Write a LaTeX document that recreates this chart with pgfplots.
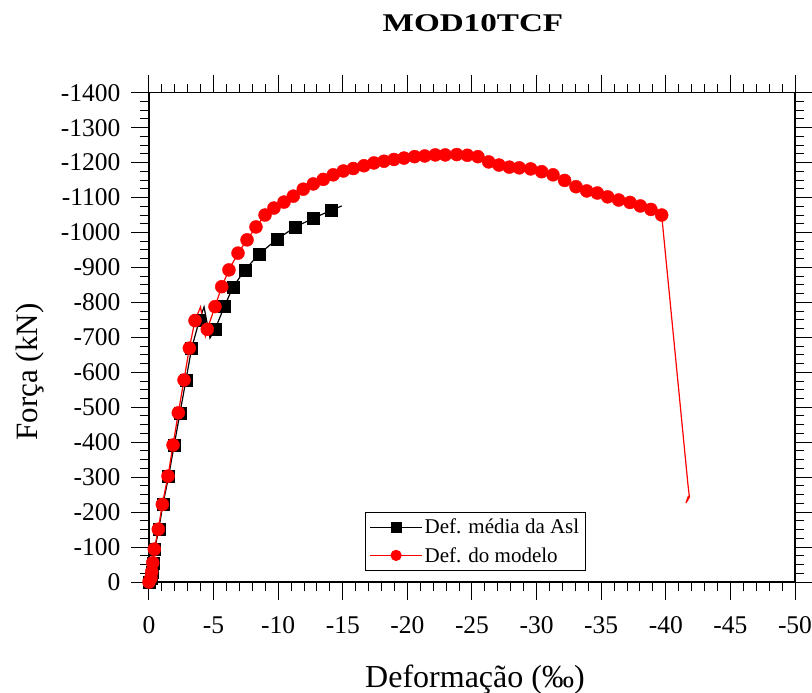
\documentclass[border=0pt]{standalone}
\usepackage{pgfplots}
\pgfplotsset{compat=1.18}
\usepackage{fontspec}
\usepackage{graphicx}
\setmainfont{Liberation Serif}
\begin{document}
\begin{tikzpicture}
\begin{axis}[
  at={(149bp,111bp)}, anchor=south west,
  scale only axis, width=646bp, height=489.3bp,
  x dir=reverse, y dir=reverse,
  xmin=-50, xmax=0, ymin=-1400, ymax=0,
  xtick={0,-5,...,-50},
  xticklabels={0,-5,-10,-15,-20,-25,-30,-35,-40,-45,-50},
  ytick={0,-100,...,-1400},
  yticklabels={0,-100,-200,-300,-400,-500,-600,-700,-800,-900,-1000,-1100,-1200,-1300,-1400},
  minor x tick num=4, minor y tick num=3,
  tick align=outside, major tick length=18bp, minor tick length=9bp,
  every tick/.style={black, line width=1bp},
  axis line style={line width=1.3bp},
  ticklabel style={font=\fontsize{25.5bp}{30bp}\selectfont},
  xticklabel style={yshift=-13bp},
  yticklabel style={xshift=-7bp},
  title={\scalebox{1.3}[1]{\fontsize{25.5bp}{30bp}\selectfont\bfseries MOD10TCF}},
  title style={at={(0.5015,1.1234)}, anchor=base, yshift=-5bp},
  xlabel={Deformação (‰)},
  xlabel style={at={(0.5046,-0.2146)}, anchor=base, font=\fontsize{32bp}{38bp}\selectfont},
  ylabel={Força (kN)},
  ylabel style={at={(-0.184,0.429)}, anchor=center, rotate=0, font=\fontsize{31bp}{37bp}\selectfont},
  legend image code/.code={\draw[mark repeat=2,mark phase=2,#1] plot coordinates {(0bp,0bp) (26bp,0bp) (52bp,0bp)};},
  legend style={at={(0.3344,0.1431)}, anchor=north west, draw=black, line width=1bp,
    font=\fontsize{21bp}{25bp}\selectfont, inner xsep=4bp, inner ysep=4.5bp, row sep=8bp,
    cells={anchor=west}},
  legend cell align=left,
]
% Def. media da Asl (line)
\addplot[black, line width=1.2bp, forget plot] coordinates {
(0,0) (-0.17,-11) (-0.23,-29) (-0.31,-55) (-0.44,-94) (-0.76,-151) (-1.08,-222)
(-1.52,-303) (-1.95,-392) (-2.40,-484) (-2.86,-578) (-3.30,-669) (-3.89,-748)
(-4.26,-787) (-4.72,-698) (-5.11,-723) (-5.83,-788) (-6.50,-844) (-7.43,-893)
(-8.51,-938) (-9.91,-981) (-11.30,-1015) (-12.72,-1041) (-14.14,-1064) (-14.92,-1076)
};
% Def. media da Asl (marks)
\addplot[black, only marks, mark=square*, mark size=6bp, forget plot] coordinates {
(0,0) (-0.17,-11) (-0.23,-29) (-0.31,-55) (-0.44,-94) (-0.76,-151) (-1.08,-222)
(-1.52,-303) (-1.95,-392) (-2.40,-484) (-2.86,-578) (-3.30,-669) (-3.89,-748)
(-5.11,-723) (-5.83,-788) (-6.50,-844) (-7.43,-893)
(-8.51,-938) (-9.91,-981) (-11.30,-1015) (-12.72,-1041) (-14.14,-1064)
};
% Def. do modelo (line)
\addplot[red, line width=1.2bp, forget plot] coordinates {
(0,0) (-0.15,-11) (-0.21,-29) (-0.29,-55) (-0.41,-94) (-0.72,-151) (-1.03,-222)
(-1.47,-303) (-1.86,-392) (-2.27,-484) (-2.71,-578) (-3.12,-669) (-3.56,-748)
(-3.99,-787) (-4.37,-704) (-4.51,-723) (-5.11,-788) (-5.63,-845) (-6.19,-893)
(-6.89,-941) (-7.59,-979) (-8.28,-1016) (-8.98,-1050) (-9.67,-1070) (-10.45,-1087)
(-11.17,-1104) (-11.94,-1124) (-12.72,-1139) (-13.49,-1152) (-14.26,-1165) (-15.04,-1176)
(-15.81,-1183) (-16.64,-1191) (-17.41,-1199) (-18.19,-1204) (-18.96,-1209) (-19.74,-1213)
(-20.56,-1217) (-21.34,-1219) (-22.16,-1222) (-22.93,-1222) (-23.82,-1223) (-24.64,-1221)
(-25.46,-1217) (-26.29,-1202) (-27.09,-1193) (-27.89,-1187) (-28.66,-1185) (-29.54,-1182)
(-30.39,-1174) (-31.27,-1165) (-32.17,-1149) (-33.05,-1131) (-33.88,-1119) (-34.70,-1113)
(-35.50,-1102) (-36.35,-1093) (-37.23,-1086) (-38.03,-1076) (-38.85,-1066) (-39.68,-1050)
(-41.72,-277) (-41.83,-243) (-41.56,-226) (-41.75,-246)
};
% Def. do modelo (marks)
\addplot[red, only marks, mark=*, mark size=6.5bp, forget plot] coordinates {
(0,0) (-0.15,-11) (-0.21,-29) (-0.29,-55) (-0.41,-94) (-0.72,-151) (-1.03,-222)
(-1.47,-303) (-1.86,-392) (-2.27,-484) (-2.71,-578) (-3.12,-669) (-3.56,-748)
(-4.51,-723) (-5.11,-788) (-5.63,-845) (-6.19,-893)
(-6.89,-941) (-7.59,-979) (-8.28,-1016) (-8.98,-1050) (-9.67,-1070) (-10.45,-1087)
(-11.17,-1104) (-11.94,-1124) (-12.72,-1139) (-13.49,-1152) (-14.26,-1165) (-15.04,-1176)
(-15.81,-1183) (-16.64,-1191) (-17.41,-1199) (-18.19,-1204) (-18.96,-1209) (-19.74,-1213)
(-20.56,-1217) (-21.34,-1219) (-22.16,-1222) (-22.93,-1222) (-23.82,-1223) (-24.64,-1221)
(-25.46,-1217) (-26.29,-1202) (-27.09,-1193) (-27.89,-1187) (-28.66,-1185) (-29.54,-1182)
(-30.39,-1174) (-31.27,-1165) (-32.17,-1149) (-33.05,-1131) (-33.88,-1119) (-34.70,-1113)
(-35.50,-1102) (-36.35,-1093) (-37.23,-1086) (-38.03,-1076) (-38.85,-1066) (-39.68,-1050)
};
\addlegendimage{black, line width=1.2bp, mark=square*, mark size=5bp}
\addlegendentry{Def. média da Asl}
\addlegendimage{red, line width=1.2bp, mark=*, mark size=5bp}
\addlegendentry{Def. do modelo}
\end{axis}
\pgfresetboundingbox
\path[use as bounding box] (0,0) rectangle (812bp,693bp);
\end{tikzpicture}
\end{document}
